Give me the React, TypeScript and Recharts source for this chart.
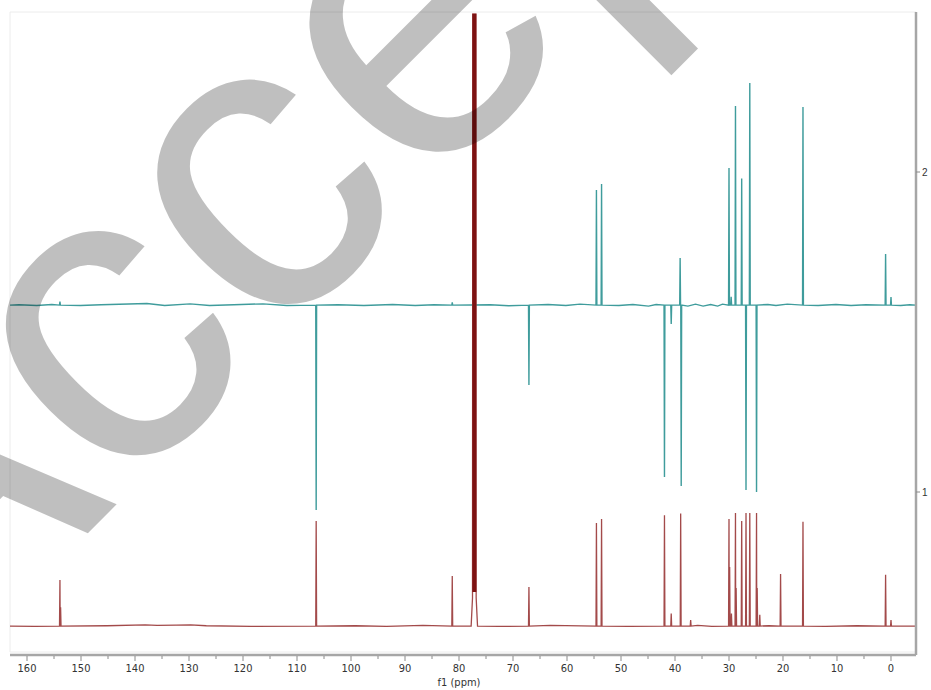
import React from 'react';
import { ComposedChart, Line, XAxis, YAxis, ReferenceArea } from 'recharts';

// chemical shift window (ppm), drawn high → low
const PPM_MAX = 163.15;
const PPM_MIN = -4.63;

// 13C{1H} trace: baseline level and peaks as [shift, peak top]
const carbonBase = 0.581;
const carbonPeaks: [number, number][] = [
  [153.9, 0.725], [153.78, 0.64],
  [106.45, 0.909],
  [81.25, 0.7375],
  [67.05, 0.703],
  [54.55, 0.903], [53.6, 0.916],
  [41.95, 0.927], [40.7, 0.62], [38.95, 0.933], [37.1, 0.6],
  [30.0, 0.916], [29.88, 0.766], [29.55, 0.62], [28.8, 0.934], [28.68, 0.7],
  [27.65, 0.909], [26.85, 0.934], [26.15, 0.934], [24.9, 0.934], [24.78, 0.7], [24.3, 0.616],
  [20.45, 0.744], [16.3, 0.907],
  [1.0, 0.741], [0.0, 0.6],
];
// small baseline wiggles: [shift, offset]
const carbonNoise: [number, number][] = [
  [158.6, -0.001], [145.2, 0.001], [138.1, 0.004], [135.9, 0.002], [132.4, 0.003],
  [129.7, 0.004], [126.8, 0.001], [118.5, -0.001], [99.2, 0.001], [93.4, -0.001],
  [86.7, 0.002], [72.5, -0.001], [63.1, 0.002], [48.6, -0.001], [35.8, 0.002],
  [33.2, -0.001], [22.6, 0.001], [12.1, -0.001], [6.3, 0.001],
];
// CDCl3 solvent signal: outer line positions, foot height, core start, top
const solventShifts = [77.48, 77.16, 76.84];
const solventFoot = 0.669;
const solventCore = 0.6875;
const solventTop = 2.494;

// DEPT-135 trace: CH/CH3 up, CH2 down
const deptBase = 1.584;
const deptPeaks: [number, number][] = [
  [153.9, 1.595],
  [106.45, 0.944],
  [81.25, 1.593],
  [67.05, 1.334],
  [54.55, 1.944], [53.6, 1.9625],
  [41.95, 1.047], [40.7, 1.525], [39.05, 1.731], [38.85, 1.019],
  [30.0, 2.0125], [29.6, 1.61], [28.8, 2.206], [27.65, 1.98], [26.85, 1.006],
  [26.15, 2.278], [24.9, 1.0],
  [16.3, 2.203],
  [1.0, 1.744], [0.0, 1.609],
];
const deptNoise: [number, number][] = [
  [161.5, 0.001], [158.2, -0.001], [155.4, 0.002], [150.1, -0.001], [146.3, 0.001],
  [137.8, 0.005], [134.5, -0.001], [129.8, 0.004], [126.2, -0.001], [121.7, 0.001],
  [116.3, 0.004], [111.9, -0.001], [102.4, 0.001], [97.6, -0.001], [92.3, 0.002],
  [88.1, -0.001], [84.6, 0.001], [74.2, 0.001], [70.8, -0.002], [63.5, 0.002],
  [60.2, -0.001], [57.6, 0.003], [50.4, -0.001], [47.8, 0.002], [44.9, -0.003],
  [43.5, 0.002], [37.6, -0.003], [36.2, 0.003], [34.8, -0.003], [33.4, 0.002],
  [32.1, -0.003], [31.2, 0.003], [22.8, 0.002], [21.3, -0.001], [19.2, 0.003],
  [13.5, -0.001], [10.2, 0.002], [7.4, -0.001], [4.6, 0.001], [-1.8, -0.001], [-3.5, 0.001],
];

const xTicks = Array.from({ length: 33 }, (_, i) => i * 5);
const yTicks = [1, 2];

const HALF_WIDTH = 0.08;

type Pt = { ppm: number; v: number };

const buildTrace = (base: number, peaks: [number, number][], noise: [number, number][]): Pt[] => {
  const pts: Pt[] = [{ ppm: PPM_MAX, v: base }, { ppm: PPM_MIN, v: base }];
  peaks.forEach(([p, top]) => {
    pts.push({ ppm: p + HALF_WIDTH, v: base }, { ppm: p, v: top }, { ppm: p - HALF_WIDTH, v: base });
  });
  noise.forEach(([p, d]) => pts.push({ ppm: p, v: base + d }));
  return pts;
};

const carbonTrace = (() => {
  const pts = buildTrace(carbonBase, carbonPeaks, carbonNoise);
  const hi = solventShifts[0];
  const lo = solventShifts[solventShifts.length - 1];
  pts.push(
    { ppm: hi + 0.27, v: carbonBase },
    { ppm: hi + 0.02, v: solventFoot },
    { ppm: hi - 0.03, v: solventTop },
    { ppm: lo + 0.03, v: solventTop },
    { ppm: lo - 0.02, v: solventFoot },
    { ppm: lo - 0.27, v: carbonBase },
  );
  return pts.sort((a, b) => b.ppm - a.ppm);
})();

const solventCoreTrace: Pt[] = [
  { ppm: solventShifts[1], v: solventCore },
  { ppm: solventShifts[1], v: solventTop },
];

const deptTrace = buildTrace(deptBase, deptPeaks, deptNoise).sort((a, b) => b.ppm - a.ppm);

const labelFont = "'Liberation Sans Narrow', 'DejaVu Sans Condensed', 'Liberation Sans', sans-serif";

const PpmTick = (props: any) => {
  const { x, y, payload } = props;
  const major = payload.value % 10 === 0;
  return (
    <g>
      <line x1={x} x2={x} y1={y + 1} y2={y + (major ? 6 : 4)} stroke="#8a8a8a" strokeWidth={1} />
      {major && (
        <text x={x} y={y + 17} textAnchor="middle" fontSize={11} fill="#333" fontFamily={labelFont}>
          {payload.value}
        </text>
      )}
    </g>
  );
};

export default function App() {
  return (
    <div style={{ position: 'absolute', left: 0, top: 0, width: 931, height: 690, background: '#fff' }}>
      <ComposedChart width={931} height={690} margin={{ top: 12, right: 0, bottom: 0, left: 10 }}>
        <XAxis
          dataKey="ppm"
          type="number"
          reversed
          domain={[PPM_MIN, PPM_MAX]}
          allowDataOverflow
          ticks={xTicks}
          interval={0}
          tick={<PpmTick />}
          tickLine={false}
          tickSize={0}
          tickMargin={0}
          height={35}
          axisLine={{ stroke: '#a6a6a6', strokeWidth: 2.5 }}
          label={{ value: 'f1 (ppm)', position: 'insideBottom', offset: 4, dx: -4, fontSize: 11, fill: '#333',
            fontFamily: labelFont }}
        />
        <YAxis
          orientation="right"
          type="number"
          domain={[0.490625, 2.5]}
          allowDataOverflow
          ticks={yTicks}
          width={15}
          tickSize={4}
          tickMargin={2}
          tick={{ fontSize: 10, fill: '#333', fontFamily: "'Liberation Sans', sans-serif" }}
          tickLine={{ stroke: '#8a8a8a' }}
          axisLine={{ stroke: '#a6a6a6', strokeWidth: 2.5 }}
        />
        <ReferenceArea x1={PPM_MAX} x2={PPM_MIN} y1={0.5} y2={2.5} fill="none" stroke="#ececec" ifOverflow="visible" />
        <Line data={deptTrace} dataKey="v" type="linear" stroke="#3f9c9c" strokeWidth={1.4}
          dot={false} activeDot={false} isAnimationActive={false} />
        <Line data={carbonTrace} dataKey="v" type="linear" stroke="#a34a4a" strokeWidth={1.3}
          dot={false} activeDot={false} isAnimationActive={false} />
        <Line data={solventCoreTrace} dataKey="v" type="linear" stroke="#7d1212" strokeWidth={4}
          dot={false} activeDot={false} isAnimationActive={false} />
      </ComposedChart>
      <svg width={931} height={690} style={{ position: 'absolute', left: 0, top: 0, pointerEvents: 'none' }}>
        <text x={-84.6} y={705.6} transform="rotate(-45 -84.6 705.6)" fontSize={428}
          fontFamily="'Liberation Sans', Arial, sans-serif" fill="#000" fillOpacity={0.25}>
          Accepted
        </text>
      </svg>
    </div>
  );
}
